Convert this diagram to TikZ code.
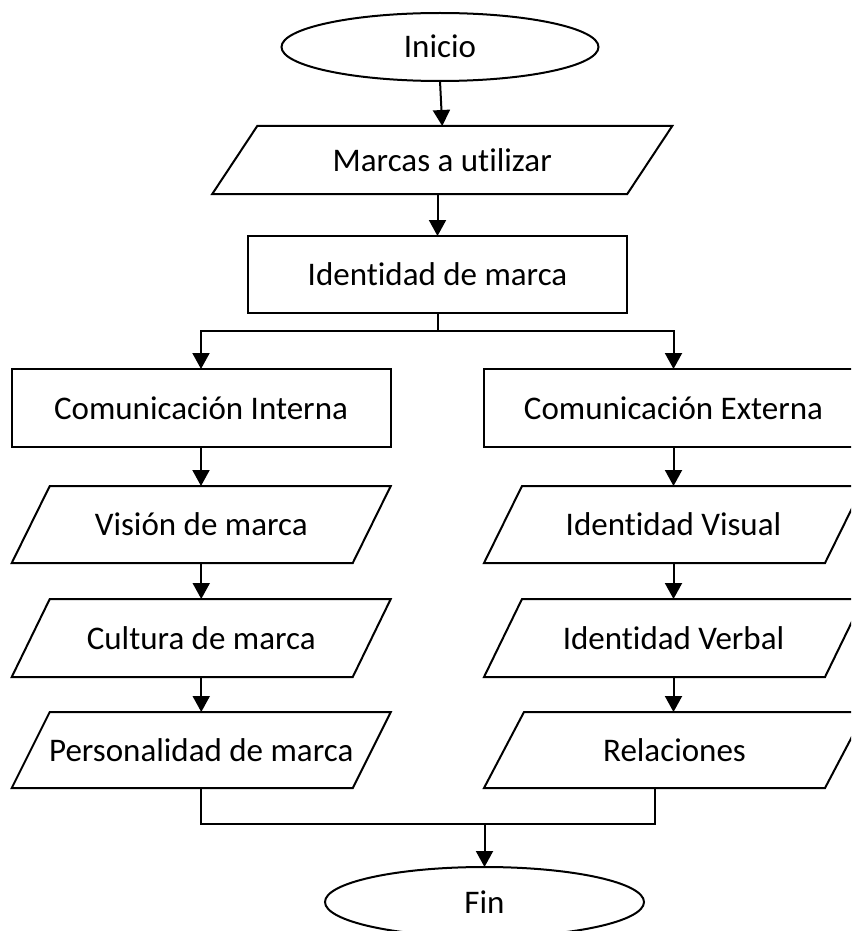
\documentclass[tikz,border=0pt]{standalone}
\usepackage{fontspec}
\setmainfont{Carlito}[Ligatures=NoCommon]
\usetikzlibrary{shapes.geometric,arrows.meta}

\tikzset{
  base/.style={font=\fontsize{33pt}{40pt}\selectfont, inner sep=0pt, outer sep=0pt,
               text height=22pt, text depth=0pt, line width=2pt},
  terminal/.style={base, draw, ellipse, minimum width=317pt, minimum height=68pt},
  procbox/.style={base, draw, rectangle, minimum width=379pt, minimum height=78pt},
  iobox/.style={base, rectangle, minimum height=77pt},
  outline/.style={line width=2pt, line join=miter},
  flow/.style={line width=2pt, -{Triangle[length=16pt,width=17pt]}},
  link/.style={line width=2pt}
}

\begin{document}
\begin{tikzpicture}[x=1pt, y=-1pt]
  \path[use as bounding box, clip] (0,0) rectangle (851,931);

  % start / end
  \node[terminal] (inicio) at (440,47) {Inicio};
  \node[terminal, minimum width=319pt, minimum height=70pt] (fin) at (484.5,902) {Fin};

  % top chain
  \node[iobox, minimum width=415pt, minimum height=68pt] (marcas) at (442.25,160) {Marcas a utilizar};
  \node[procbox, minimum height=77pt] (ident) at (437.5,274.5) {Identidad de marca};

  % two branches
  \node[procbox] (cint) at (201,408) {Comunicación Interna};
  \node[procbox] (cext) at (673.5,408) {Comunicación Externa};

  \node[iobox, minimum width=341pt] (vision) at (201.25,524.5) {Visión de marca};
  \node[iobox, minimum width=341pt, minimum height=78pt] (cultura) at (201.25,638) {Cultura de marca};
  \node[iobox, minimum width=341pt, minimum height=76pt] (pers) at (201.25,750) {Personalidad de marca};

  \node[iobox, minimum width=341pt] (ivis) at (673.5,524.5) {Identidad Visual};
  \node[iobox, minimum width=341pt, minimum height=78pt] (iverb) at (673.5,638) {Identidad Verbal};
  \node[iobox, minimum width=341pt, minimum height=76pt] (rel) at (674.5,750) {Relaciones};

  % slanted outlines of the input/output boxes
  \foreach \n/\s in {marcas/22.5, vision/19, cultura/19, pers/19, ivis/19, iverb/19, rel/20} {
    \draw[outline] ([xshift=\s pt]\n.north west) -- ([xshift=\s pt]\n.north east)
      -- ([xshift=-\s pt]\n.south east) -- ([xshift=-\s pt]\n.south west) -- cycle;
  }

  % helper points
  \coordinate (split) at (437.5,331);
  \coordinate (mr) at (655,788);
  \coordinate (mjr) at (655,824);
  \coordinate (mj) at (484.5,824);

  % connectors
  \draw[flow] (inicio.south) -- (marcas.north);
  \draw[flow] (ident.north |- marcas.south) -- (ident.north);
  \draw[link] (ident.south) -- (split);
  \draw[flow] (split) -| (cint.north);
  \draw[flow] (split) -| (cext.north);

  \draw[flow] (cint.south) -- (cint.south |- vision.north);
  \draw[flow] (vision.south) -- (cultura.north);
  \draw[flow] (cultura.south) -- (pers.north);

  \draw[flow] (cext.south) -- (cext.south |- ivis.north);
  \draw[flow] (ivis.south -| cext.south) -- (cext.south |- iverb.north);
  \draw[flow] (iverb.south -| cext.south) -- (cext.south |- rel.north);

  \draw[link] (pers.south) |- (mjr) -- (mr);
  \draw[flow] (mj) -- (fin.north);
\end{tikzpicture}
\end{document}
